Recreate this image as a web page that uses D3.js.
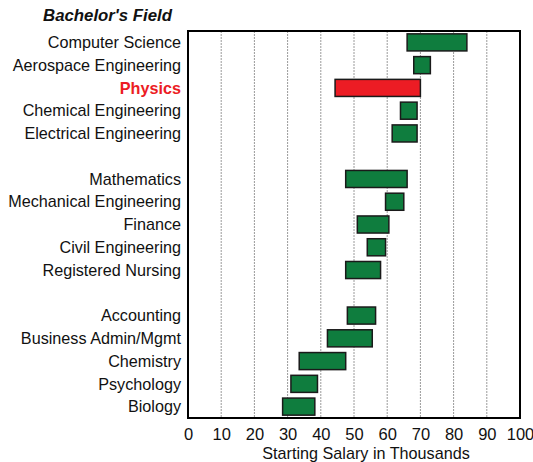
<!DOCTYPE html>
<html>
<head>
  <meta charset="utf-8">
  <title>Starting Salary by Bachelor's Field</title>
  <script src="https://d3js.org/d3.v7.min.js"></script>
  <style>
    body { margin: 0; background: #fff; }
    text { font-family: "Liberation Sans", Arial, Helvetica, sans-serif; }
  </style>
</head>
<body>
  <script>
    // fields, top to bottom, in three groups
    const groups = [
      ["Computer Science", "Aerospace Engineering", "Physics", "Chemical Engineering", "Electrical Engineering"],
      ["Mathematics", "Mechanical Engineering", "Finance", "Civil Engineering", "Registered Nursing"],
      ["Accounting", "Business Admin/Mgmt", "Chemistry", "Psychology", "Biology"]
    ];
    // salary ranges (thousands), same order
    const lows  = [66, 68, 44.3, 64, 61.5,  47.5, 59.5, 51, 54, 47.5,  48, 42, 33.5, 31, 28.5];
    const highs = [84, 73, 70,   69, 69,    66,   65,   60.5, 59.5, 58,  56.5, 55.5, 47.5, 39, 38.2];
    const ticks = [0, 10, 20, 30, 40, 50, 60, 70, 80, 90, 100];
    const highlight = "Physics";

    const width = 533, height = 462;
    const margin = { top: 31, right: 13, bottom: 44, left: 188 };

    // slot keys, with an empty slot between groups
    const slots = [];
    groups.forEach((g, i) => {
      if (i > 0) slots.push("gap" + i);
      g.forEach(n => slots.push(n));
    });
    const fields = groups.flat();
    const data = fields.map((name, i) => ({ name, lo: lows[i], hi: highs[i] }));

    const svg = d3.select("body").append("svg")
      .attr("width", width)
      .attr("height", height);

    const x = d3.scaleLinear().domain([0, 100]).range([margin.left, width - margin.right]);
    const y = d3.scaleBand().domain(slots).range([margin.top, height - margin.bottom]).paddingInner(0.25).paddingOuter(0.125);

    // gridlines
    svg.append("g")
      .selectAll("line")
      .data(ticks.slice(1, -1))
      .join("line")
      .attr("x1", d => x(d)).attr("x2", d => x(d))
      .attr("y1", margin.top).attr("y2", height - margin.bottom)
      .attr("stroke", "#9a9a9a")
      .attr("stroke-width", 1)
      .attr("stroke-dasharray", "2,1");

    // bars
    svg.append("g")
      .selectAll("rect")
      .data(data)
      .join("rect")
      .attr("x", d => x(d.lo))
      .attr("width", d => x(d.hi) - x(d.lo))
      .attr("y", d => y(d.name))
      .attr("height", y.bandwidth())
      .attr("fill", d => d.name === highlight ? "#ec1c24" : "#0f7d3e")
      .attr("stroke", "#1a1a1a")
      .attr("stroke-width", 1.5);

    // frame
    svg.append("rect")
      .attr("x", margin.left).attr("y", margin.top)
      .attr("width", width - margin.right - margin.left)
      .attr("height", height - margin.bottom - margin.top)
      .attr("fill", "none")
      .attr("stroke", "#000")
      .attr("stroke-width", 2);

    // x axis labels
    const xAxis = svg.append("g")
      .attr("transform", `translate(0,${height - margin.bottom})`)
      .call(d3.axisBottom(x).tickValues(ticks).tickSize(0).tickPadding(10).tickFormat(d3.format("d")));
    xAxis.select(".domain").remove();
    xAxis.selectAll("text")
      .attr("font-family", "'Liberation Sans', Arial, sans-serif")
      .attr("font-size", 16.5)
      .attr("fill", "#111");

    svg.append("text")
      .attr("x", 366)
      .attr("y", height - 3)
      .attr("text-anchor", "middle")
      .attr("font-size", 16.2)
      .attr("fill", "#111")
      .text("Starting Salary in Thousands");

    // category labels
    svg.append("g")
      .selectAll("text")
      .data(fields)
      .join("text")
      .attr("x", margin.left - 7)
      .attr("y", d => y(d) + y.bandwidth() / 2)
      .attr("dy", "0.35em")
      .attr("text-anchor", "end")
      .attr("font-size", 16.2)
      .attr("font-weight", d => d === highlight ? "bold" : "normal")
      .attr("fill", d => d === highlight ? "#ec1c24" : "#111")
      .text(d => d);

    svg.append("text")
      .attr("x", 172)
      .attr("y", 21)
      .attr("text-anchor", "end")
      .attr("font-size", 16.8)
      .attr("font-weight", "bold")
      .attr("font-style", "italic")
      .attr("fill", "#111")
      .text("Bachelor's Field");
  </script>
</body>
</html>
